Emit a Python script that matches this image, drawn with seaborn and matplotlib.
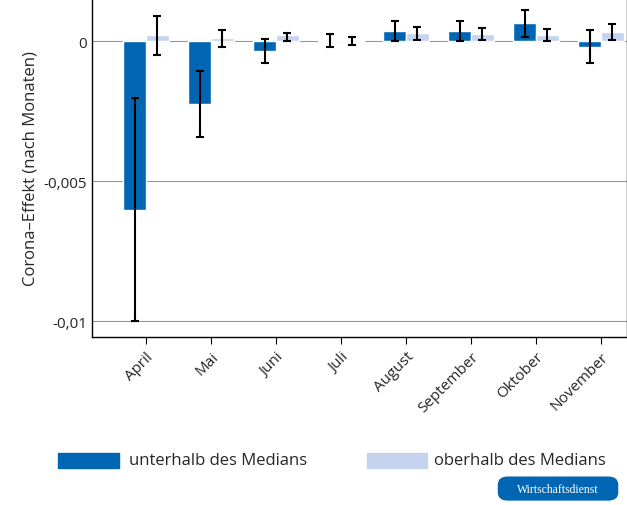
import pandas as pd
import matplotlib
matplotlib.use('Agg')
import matplotlib.pyplot as plt
import seaborn as sns
from matplotlib.patches import FancyBboxPatch

months = ['April', 'Mai', 'Juni', 'Juli', 'August', 'September', 'Oktober', 'November']
below = [-0.00604, -0.00225, -0.00036, 0.00005, 0.00035, 0.00035, 0.00065, -0.0002]
below_lo = [-0.01, -0.00343, -0.0008, -0.0002, 0.0, 0.0, 0.00014, -0.0008]
below_hi = [-0.00204, -0.00107, 0.00007, 0.00025, 0.0007, 0.0007, 0.0011, 0.0004]
above = [0.0002, 0.0001, 0.0002, 0.00003, 0.0003, 0.00025, 0.00022, 0.00032]
above_lo = [-0.0005, -0.0002, 0.0, -0.00015, 0.00004, 0.00004, 0.0, 0.00004]
above_hi = [0.0009, 0.0004, 0.0003, 0.00015, 0.0005, 0.00045, 0.00043, 0.0006]
groups = ['unterhalb des Medians', 'oberhalb des Medians']

df = pd.DataFrame({
    'Monat': months * 2,
    'Gruppe': [groups[0]] * 8 + [groups[1]] * 8,
    'Wert': below + above,
})

sns.set_style('white')
plt.rcParams['font.family'] = ['Open Sans', 'DejaVu Sans']

fig = plt.figure(figsize=(6.27, 5.06), dpi=100)
ax = fig.add_axes([0.147, 0.332, 0.853, 0.668])
for y in [0, -0.005, -0.01]:
    ax.axhline(y, color='#999999', lw=0.8, zorder=0)

sns.barplot(data=df, x='Monat', y='Wert', hue='Gruppe', palette=['#0066b3', '#c5d3ee'],
            width=0.7, gap=0, saturation=1, ax=ax, legend=False, zorder=2)

# error bars at bar centres
for i in range(8):
    for j, (v, lo, hi) in enumerate([(below[i], below_lo[i], below_hi[i]),
                                      (above[i], above_lo[i], above_hi[i])]):
        x = i + (-0.175 if j == 0 else 0.175)
        ax.errorbar(x, v, yerr=[[v - lo], [hi - v]], fmt='none', ecolor='black',
                    elinewidth=1.5, capsize=3, capthick=1.5, zorder=3)

ax.set_ylim(-0.01057, 0.0015)
ax.set_xlim(-0.83, 7.4)
ax.set_yticks([0, -0.005, -0.01])
ax.set_yticklabels(['0', '-0,005', '-0,01'], fontsize=11)
ax.set_xticks(range(8))
ax.set_xticklabels(months, rotation=45, ha='right', rotation_mode='anchor', fontsize=11)
ax.tick_params(axis='x', length=5, color='black', direction='out', bottom=True)
ax.tick_params(axis='y', length=0)
ax.set_xlabel('')
ax.set_ylabel('Corona–Effekt (nach Monaten)', fontsize=12)
for s in ax.spines.values():
    s.set_color('black')
    s.set_linewidth(1)
ax.spines['top'].set_visible(False)

# legend
fig.patches.append(plt.Rectangle((0.093, 0.073), 0.096, 0.03, color='#0066b3', transform=fig.transFigure))
fig.text(0.205, 0.088, groups[0], fontsize=12, va='center')
fig.patches.append(plt.Rectangle((0.585, 0.073), 0.096, 0.03, color='#c5d3ee', transform=fig.transFigure))
fig.text(0.692, 0.088, groups[1], fontsize=12, va='center')

badge = FancyBboxPatch((0.8, 0.015), 0.18, 0.035, boxstyle='round,pad=0.005,rounding_size=0.015',
                       color='#0066b3', transform=fig.transFigure)
fig.patches.append(badge)
fig.text(0.89, 0.032, 'Wirtschaftsdienst', color='white', fontsize=8.5, ha='center', va='center',
         family='Liberation Serif')

fig.savefig('out.png', dpi=100)
